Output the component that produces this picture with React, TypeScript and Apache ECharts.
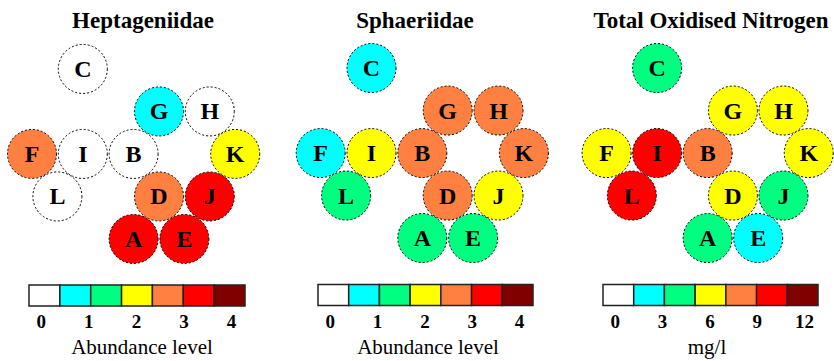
import React, { useEffect, useRef } from "react";
import * as echarts from "echarts";

// Site layout (hexagonal map units) and names
const sites = ["A", "B", "C", "D", "E", "F", "G", "H", "I", "J", "K", "L"];
const siteCol = [2, 2, 1, 2.5, 3, 0, 2.5, 3.5, 1, 3.5, 4, 0.5];
const siteRow = [4, 2, 0, 3, 4, 2, 1, 1, 2, 3, 2, 3];

// Colour class (0..6) for each site, per panel
const heptageniidae = [5, 0, 0, 4, 5, 4, 1, 0, 0, 5, 3, 0];
const sphaeriidae = [2, 4, 1, 4, 2, 1, 4, 4, 3, 3, 4, 2];
const totalOxidisedNitrogen = [2, 4, 2, 3, 1, 3, 3, 3, 5, 2, 3, 5];

const panelTitles = ["Heptageniidae", "Sphaeriidae", "Total Oxidised Nitrogen"];
const abundanceTicks = ["0", "1", "2", "3", "4"];
const nitrogenTicks = ["0", "3", "6", "9", "12"];
const legendNames = ["Abundance level", "Abundance level", "mg/l"];

const classColors = ["#FFFFFF", "#00FFFF", "#00FF80", "#FFFF00", "#FF8040", "#FF0000", "#800000"];
const classIndex = [0, 1, 2, 3, 4, 5, 6];

const SERIF = "Liberation Serif";

export default function App() {
  const ref = useRef<HTMLDivElement>(null);
  useEffect(() => {
    if (!ref.current) return;
    const chart = echarts.init(ref.current, null, { renderer: "svg" });
    const panelValues = [heptageniidae, sphaeriidae, totalOxidisedNitrogen];
    const panelTicks = [abundanceTicks, abundanceTicks, nitrogenTicks];

    const mapGrids = [
      { left: 6.6, top: 47.7, width: 254, height: 212.5 },
      { left: 295.3, top: 46.8, width: 254, height: 212.5 },
      { left: 581.3, top: 46.8, width: 254, height: 212.5 },
    ];
    const barGrids = [
      { left: 29, top: 285, width: 216, height: 21 },
      { left: 318, top: 284.5, width: 215, height: 21 },
      { left: 603, top: 284.5, width: 215, height: 21 },
    ];
    const titleX = [143, 415, 711];
    const legendX = [142, 428, 707];

    const grid: any[] = [];
    const xAxis: any[] = [];
    const yAxis: any[] = [];
    const series: any[] = [];
    const graphic: any[] = [];

    for (let p = 0; p < 3; p++) {
      // map grid
      const gi = grid.length;
      grid.push(mapGrids[p]);
      xAxis.push({ gridIndex: gi, type: "value", min: -0.5, max: 4.5, show: false });
      yAxis.push({ gridIndex: gi, type: "value", min: -0.5, max: 4.5, inverse: true, show: false });
      const vals = panelValues[p];
      series.push({
        type: "scatter",
        xAxisIndex: gi,
        yAxisIndex: gi,
        symbol: "circle",
        symbolSize: 49,
        data: sites.map((s, i) => ({
          name: s,
          value: [siteCol[i], siteRow[i]],
          itemStyle: { color: classColors[vals[i]] },
        })),
        itemStyle: { opacity: 1, borderColor: "#000", borderWidth: 1, borderType: [2, 2] },
        label: {
          show: true,
          position: "inside",
          formatter: (d: any) => d.name,
          color: "#000",
          fontFamily: SERIF,
          fontWeight: "bold",
          fontSize: 24,
        },
        emphasis: { disabled: true },
        silent: true,
      });

      // colour bar grid
      const bi = grid.length;
      grid.push(barGrids[p]);
      const ticks = panelTicks[p];
      const tickPos = ticks.map((_, k) => 0.4 + k * 1.54);
      xAxis.push({
        gridIndex: bi,
        type: "value",
        min: 0,
        max: 7,
        axisLine: { show: false },
        axisTick: { show: false },
        splitLine: { show: false },
        axisLabel: {
          customValues: tickPos,
          formatter: (v: number) => ticks[Math.round((v - 0.4) / 1.54)],
          color: "#000",
          fontFamily: SERIF,
          fontWeight: "bold",
          fontSize: 19,
          margin: 6,
        },
      });
      yAxis.push({ gridIndex: bi, type: "value", min: 0, max: 1, show: false });
      series.push({
        type: "custom",
        xAxisIndex: bi,
        yAxisIndex: bi,
        data: classIndex.map((c) => [c]),
        renderItem: (params: any, api: any) => {
          const i = api.value(0);
          const p0 = api.coord([i, 1]);
          const p1 = api.coord([i + 1, 0]);
          return {
            type: "rect",
            shape: { x: p0[0], y: p0[1], width: p1[0] - p0[0], height: p1[1] - p0[1] },
            style: { fill: classColors[i], stroke: "#222", lineWidth: 1.5 },
          };
        },
        silent: true,
      });

      graphic.push({
        type: "text",
        x: titleX[p],
        y: 20,
        style: {
          text: panelTitles[p],
          align: "center",
          verticalAlign: "middle",
          fill: "#000",
          fontFamily: SERIF,
          fontWeight: "bold",
          fontSize: 23,
        },
      });
      graphic.push({
        type: "text",
        x: legendX[p],
        y: 347,
        style: {
          text: legendNames[p],
          align: "center",
          verticalAlign: "middle",
          fill: "#000",
          fontFamily: SERIF,
          fontSize: 21,
        },
      });
    }

    chart.setOption({
      animation: false,
      backgroundColor: "#fff",
      grid,
      xAxis,
      yAxis,
      series,
      graphic,
    });
    return () => chart.dispose();
  }, []);
  return (
    <div
      ref={ref}
      style={{ position: "absolute", left: 0, top: 0, width: 834, height: 361 }}
    />
  );
}
